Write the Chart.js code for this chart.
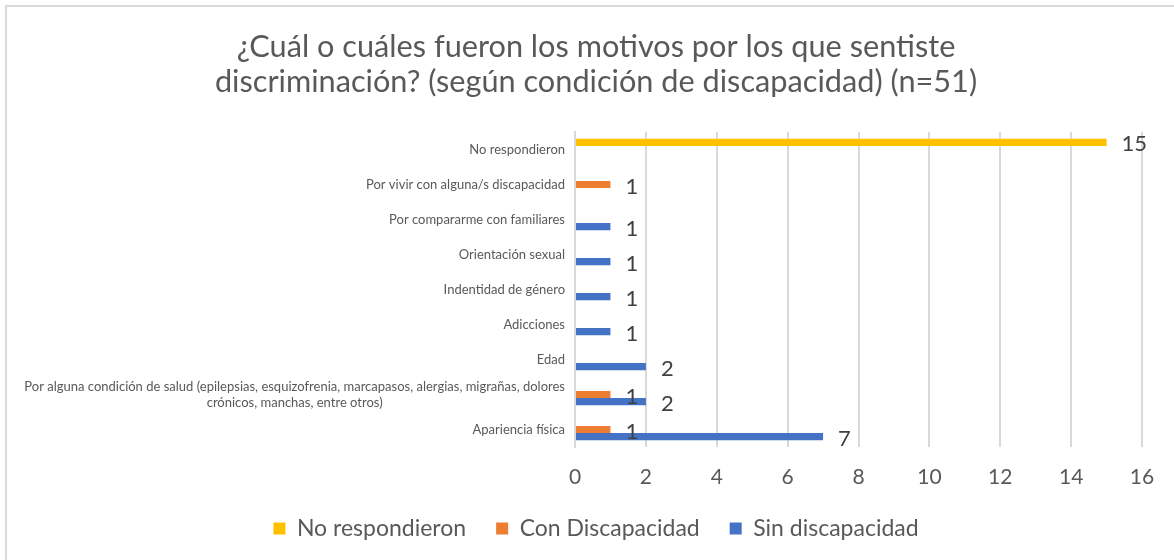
<!DOCTYPE html>
<html>
<head>
<meta charset="utf-8">
<script src="https://cdn.jsdelivr.net/npm/chart.js@4.4.0/dist/chart.umd.min.js"></script>
<style>
  html, body { margin: 0; padding: 0; background: #fff; }
  #wrap { position: relative; width: 1174px; height: 560px; }
</style>
</head>
<body>
<div id="wrap"><canvas id="motivos" width="1174" height="560"></canvas></div>
<script>
// Categories (top to bottom) and the three series
const categories = [
    'No respondieron',
    'Por vivir con alguna/s discapacidad',
    'Por compararme con familiares',
    'Orientación sexual',
    'Indentidad de género',
    'Adicciones',
    'Edad',
    ['Por alguna condición de salud (epilepsias, esquizofrenia, marcapasos, alergias, migrañas, dolores', 'crónicos, manchas, entre otros)'],
    'Apariencia física'
];
const noRespondieron = [15, null, null, null, null, null, null, null, null];
const conDiscapacidad = [null, 1, null, null, null, null, null, 1, 1];
const sinDiscapacidad = [null, null, 1, 1, 1, 1, 2, 2, 7];
const xTicks = [0, 2, 4, 6, 8, 10, 12, 14, 16];

const grey = '#595959';
const mainFont = 'Lato, "Open Sans", sans-serif';

// Left and top frame of the chart box
const framePlugin = {
    id: 'frame',
    beforeDraw(chart) {
        const ctx = chart.ctx;
        ctx.save();
        ctx.strokeStyle = '#d9d9d9';
        ctx.lineWidth = 2;
        ctx.beginPath();
        ctx.moveTo(6, chart.height);
        ctx.lineTo(6, 6);
        ctx.lineTo(chart.width, 6);
        ctx.stroke();
        ctx.restore();
    }
};

// Category labels, condensed, multi-line ones centred inside their block
const categoryLabels = {
    id: 'categoryLabels',
    afterDraw(chart) {
        const ctx = chart.ctx;
        const yScale = chart.scales.y;
        const right = chart.chartArea.left - 10;
        ctx.save();
        ctx.font = '13px ' + mainFont;
        // squeeze the text so the longest line is as narrow as in the original
        const squeeze = Math.min(1, 541 / ctx.measureText(categories[7][0]).width);
        ctx.fillStyle = grey;
        ctx.textBaseline = 'middle';
        ctx.textAlign = 'center';
        categories.forEach((label, i) => {
            const lines = Array.isArray(label) ? label : [label];
            const blockWidth = Math.max(...lines.map(l => ctx.measureText(l).width)) * squeeze;
            const cy = yScale.getPixelForValue(i);
            const lineH = 16;
            lines.forEach((line, j) => {
                const y = cy + (j - (lines.length - 1) / 2) * lineH;
                ctx.save();
                ctx.translate(right - blockWidth / 2, y);
                ctx.scale(squeeze, 1);
                ctx.fillText(line, 0, 0);
                ctx.restore();
            });
        });
        ctx.restore();
    }
};

// Value labels at the end of each bar
const valueLabels = {
    id: 'valueLabels',
    afterDatasetsDraw(chart) {
        const ctx = chart.ctx;
        ctx.save();
        ctx.font = '22px ' + mainFont;
        ctx.fillStyle = '#404040';
        ctx.textAlign = 'left';
        ctx.textBaseline = 'middle';
        chart.data.datasets.forEach((ds, di) => {
            const meta = chart.getDatasetMeta(di);
            meta.data.forEach((bar, i) => {
                const v = ds.data[i];
                if (v === null || v === undefined) return;
                ctx.fillText(String(v), bar.x + 15, bar.y + 2);
            });
        });
        ctx.restore();
    }
};

const ctx = document.getElementById('motivos').getContext('2d');
const motivosChart = new Chart(ctx, {
    type: 'bar',
    data: {
        labels: categories,
        datasets: [
            { label: 'No respondieron', data: noRespondieron, backgroundColor: '#FFC000' },
            { label: 'Con Discapacidad', data: conDiscapacidad, backgroundColor: '#ED7D31' },
            { label: 'Sin discapacidad', data: sinDiscapacidad, backgroundColor: '#4472C4' }
        ]
    },
    options: {
        indexAxis: 'y',
        responsive: false,
        animation: false,
        layout: { padding: { left: 50, right: 32, top: 8, bottom: 10 } },
        datasets: {
            bar: { categoryPercentage: 0.62, barPercentage: 1.0 }
        },
        scales: {
            x: {
                min: 0,
                max: 16,
                afterBuildTicks: (scale) => { scale.ticks = xTicks.map(v => ({ value: v })); },
                afterFit: (scale) => { scale.height = 40; },
                grid: { color: '#d9d9d9', lineWidth: 2, drawTicks: false },
                border: { display: false },
                ticks: {
                    color: grey,
                    padding: 18,
                    font: { family: mainFont, size: 21 }
                }
            },
            y: {
                afterFit: (scale) => { scale.width = 525; },
                grid: { display: false },
                border: { display: true, color: '#d9d9d9', width: 2 },
                ticks: { display: false }
            }
        },
        plugins: {
            title: {
                display: true,
                text: ['¿Cuál o cuáles fueron los motivos por los que sentiste', 'discriminación? (según condición de discapacidad) (n=51)'],
                color: grey,
                font: { family: mainFont, size: 30.7, weight: 'normal', lineHeight: 1.14 },
                padding: { top: 22, bottom: 32 }
            },
            legend: {
                position: 'bottom',
                labels: {
                    color: grey,
                    boxWidth: 12,
                    boxHeight: 12,
                    padding: 30,
                    font: { family: mainFont, size: 23 }
                }
            },
            tooltip: { enabled: false }
        }
    },
    plugins: [framePlugin, categoryLabels, valueLabels]
});
</script>
</body>
</html>
